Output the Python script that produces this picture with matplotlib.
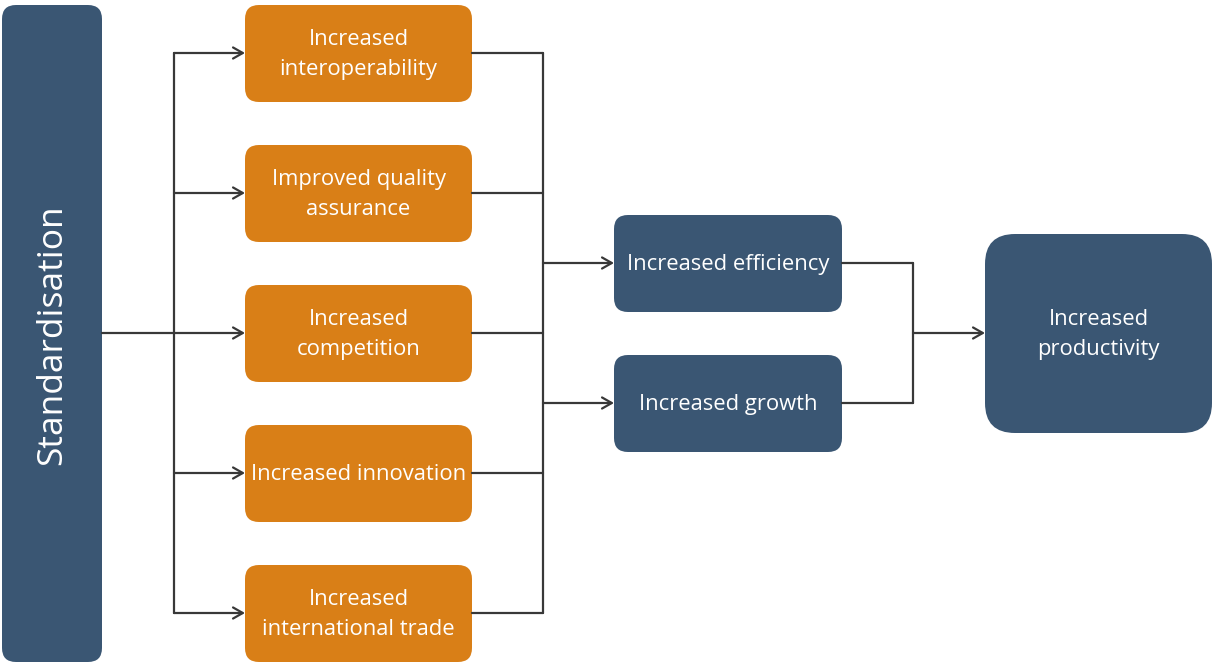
import matplotlib
matplotlib.use("Agg")
import matplotlib.pyplot as plt
from matplotlib.patches import FancyBboxPatch

plt.rcParams['font.family'] = ['Open Sans', 'DejaVu Sans']

source = "Standardisation"
drivers = ["Increased\ninteroperability", "Improved quality\nassurance",
           "Increased\ncompetition", "Increased innovation",
           "Increased\ninternational trade"]
effects = ["Increased efficiency", "Increased growth"]
outcome = "Increased\nproductivity"

blue = "#3a5673"
orange = "#d97f17"
line = "#383838"

fig = plt.figure(figsize=(12.12, 6.64), dpi=100)
ax = fig.add_axes([0, 0, 1, 1])
ax.set_xlim(0, 1212)
ax.set_ylim(664, 0)
ax.axis("off")

def box(x0, y0, x1, y1, color, r, text, size, rot=0):
    p = FancyBboxPatch((x0 + r, y0 + r), x1 - x0 - 2 * r, y1 - y0 - 2 * r,
                       boxstyle="round,pad=%g" % r, fc=color, ec="none")
    ax.add_patch(p)
    ax.text((x0 + x1) / 2, (y0 + y1) / 2 + 1, text, color="white", fontsize=size,
            ha="center", va="center", rotation=rot, linespacing=1.58)

def seg(xs, ys):
    ax.plot(xs, ys, color=line, lw=1.6, solid_capstyle="round",
            solid_joinstyle="round")

def arrow(x0, x1, y):
    ax.annotate("", xy=(x1, y), xytext=(x0, y),
                arrowprops=dict(arrowstyle="->,head_length=0.7,head_width=0.4",
                                color=line, lw=1.6, shrinkA=0, shrinkB=0))

# source column
box(2, 5, 102, 662, blue, 14, source, 25.5, rot=90)

# drivers
dy = [53 + 140 * i for i in range(len(drivers))]
for y, t in zip(dy, drivers):
    box(245, y - 48, 472, y + 49, orange, 14, t, 15.8)
    arrow(174, 245, y)
seg([102, 174], [333, 333])
seg([174, 174], [dy[0], dy[-1]])

# effects
ey = [263, 403]
for y, t in zip(ey, effects):
    box(614, y - 48, 842, y + 49, blue, 14, t, 15.8)
    arrow(543, 614, y)
for y in dy:
    seg([472, 543], [y, y])
seg([543, 543], [dy[0], dy[-1]])

# outcome
for y in ey:
    seg([842, 913], [y, y])
seg([913, 913], [ey[0], ey[-1]])
arrow(913, 985, 333)
box(985, 234, 1212, 433, blue, 30, outcome, 15.8)

fig.savefig("out.png", dpi=100)
